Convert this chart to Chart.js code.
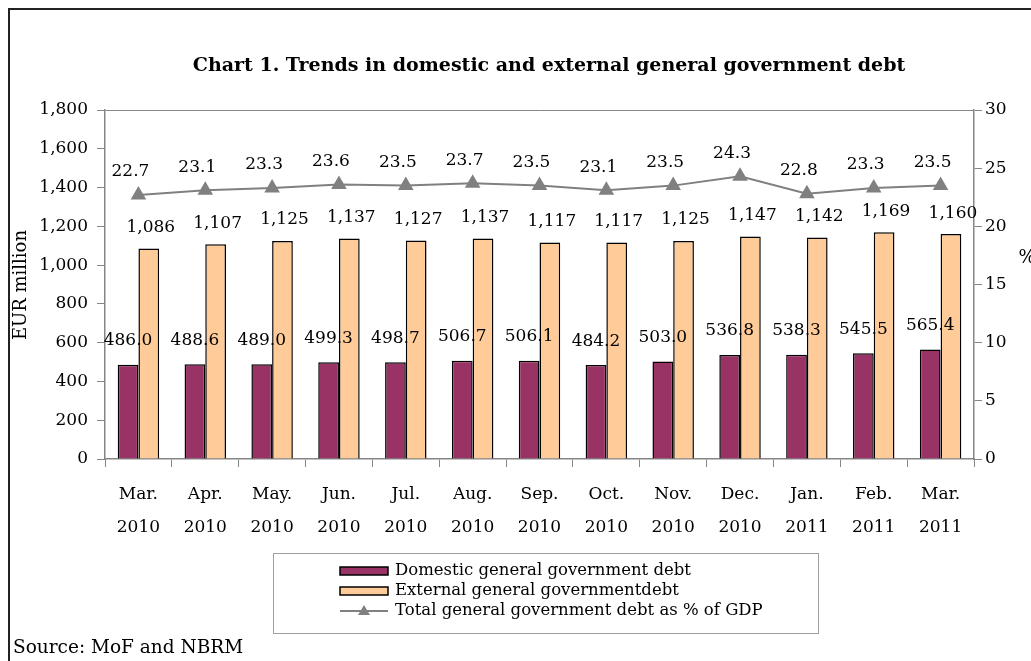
<!DOCTYPE html>
<html>
<head>
<meta charset="utf-8">
<script src="https://cdn.jsdelivr.net/npm/chart.js@4/dist/chart.umd.min.js"></script>
<style>
  html, body { margin: 0; padding: 0; background: #fff; }
  #wrap { position: relative; width: 1031px; height: 661px; }
</style>
</head>
<body>
<div id="wrap"><canvas id="debtChart" width="1031" height="661"></canvas></div>
<script>
// data
const months = [
  ['Mar.', '2010'], ['Apr.', '2010'], ['May.', '2010'], ['Jun.', '2010'], ['Jul.', '2010'],
  ['Aug.', '2010'], ['Sep.', '2010'], ['Oct.', '2010'], ['Nov.', '2010'], ['Dec.', '2010'],
  ['Jan.', '2011'], ['Feb.', '2011'], ['Mar.', '2011']
];
const domesticDebt = [486.0, 488.6, 489.0, 499.3, 498.7, 506.7, 506.1, 484.2, 503.0, 536.8, 538.3, 545.5, 565.4];
const externalDebt = [1086, 1107, 1125, 1137, 1127, 1137, 1117, 1117, 1125, 1147, 1142, 1169, 1160];
const debtToGdp = [22.7, 23.1, 23.3, 23.6, 23.5, 23.7, 23.5, 23.1, 23.5, 24.3, 22.8, 23.3, 23.5];

const seriesNames = [
  'Domestic general government debt',
  'External general governmentdebt',
  'Total general government debt as % of GDP'
];

const serif = 'DejaVu Serif';
const axisGray = '#868686';

// labels, title, frame and legend drawn onto the canvas
const extras = {
  id: 'extras',
  afterDatasetsDraw(chart) {
    const ctx = chart.ctx;
    const dom = chart.getDatasetMeta(0).data;
    const ext = chart.getDatasetMeta(1).data;
    const line = chart.getDatasetMeta(2).data;
    ctx.save();
    ctx.fillStyle = '#000';
    ctx.font = `17px "${serif}"`;
    ctx.textAlign = 'center';
    ctx.textBaseline = 'middle';
    dom.forEach((bar, i) => {
      ctx.fillText(domesticDebt[i].toFixed(1), bar.x, bar.y - 24);
    });
    ext.forEach((bar, i) => {
      ctx.fillText(externalDebt[i].toLocaleString('en-US'), bar.x + 2, bar.y - 21);
    });
    line.forEach((pt, i) => {
      ctx.fillText(debtToGdp[i].toFixed(1), pt.x - 8, pt.y - 23);
    });
    ctx.restore();
  },
  afterDraw(chart) {
    const ctx = chart.ctx;
    ctx.save();
    // outer frame (left and top only)
    ctx.strokeStyle = '#222';
    ctx.lineWidth = 2;
    ctx.beginPath();
    ctx.moveTo(9, 661);
    ctx.lineTo(9, 9);
    ctx.lineTo(1031, 9);
    ctx.stroke();

    // title
    ctx.fillStyle = '#000';
    ctx.font = `bold 19px "${serif}"`;
    ctx.textAlign = 'center';
    ctx.textBaseline = 'middle';
    ctx.fillText('Chart 1. Trends in domestic and external general government debt', 549, 66);

    // axis titles
    ctx.font = `18px "${serif}"`;
    ctx.save();
    ctx.translate(21, 285);
    ctx.rotate(-Math.PI / 2);
    ctx.fillText('EUR million', 0, 0);
    ctx.restore();
    ctx.fillText('%', 1027, 258);

    // source
    ctx.textAlign = 'left';
    ctx.font = `18.5px "${serif}"`;
    ctx.fillText('Source: MoF and NBRM', 13, 648);

    // legend box
    ctx.strokeStyle = '#a0a0a0';
    ctx.lineWidth = 1;
    ctx.strokeRect(273.5, 553.5, 545, 80);
    const rowY = [571, 591, 611];
    ctx.font = `16.5px "${serif}"`;
    ctx.textBaseline = 'middle';
    ctx.lineWidth = 1.5;
    ctx.strokeStyle = '#000';
    ctx.fillStyle = '#993366';
    ctx.fillRect(340, rowY[0] - 4, 48, 8);
    ctx.strokeRect(340, rowY[0] - 4, 48, 8);
    ctx.fillStyle = '#FFCC99';
    ctx.fillRect(340, rowY[1] - 4, 48, 8);
    ctx.strokeRect(340, rowY[1] - 4, 48, 8);
    ctx.strokeStyle = '#808080';
    ctx.lineWidth = 2;
    ctx.beginPath();
    ctx.moveTo(340, rowY[2]);
    ctx.lineTo(388, rowY[2]);
    ctx.stroke();
    ctx.fillStyle = '#808080';
    ctx.beginPath();
    ctx.moveTo(364, rowY[2] - 6);
    ctx.lineTo(370, rowY[2] + 4);
    ctx.lineTo(358, rowY[2] + 4);
    ctx.closePath();
    ctx.fill();
    ctx.fillStyle = '#000';
    seriesNames.forEach((name, i) => ctx.fillText(name, 395, rowY[i]));
    ctx.restore();
  }
};

new Chart(document.getElementById('debtChart'), {
  type: 'bar',
  data: {
    labels: months,
    datasets: [
      {
        label: seriesNames[0],
        data: domesticDebt,
        backgroundColor: '#993366',
        borderColor: '#000',
        borderWidth: 1.5,
        yAxisID: 'y',
        order: 2
      },
      {
        label: seriesNames[1],
        data: externalDebt,
        backgroundColor: '#FFCC99',
        borderColor: '#000',
        borderWidth: 1.5,
        yAxisID: 'y',
        order: 2
      },
      {
        type: 'line',
        label: seriesNames[2],
        data: debtToGdp,
        borderColor: '#808080',
        borderWidth: 2,
        pointStyle: 'triangle',
        pointRadius: 7,
        pointBackgroundColor: '#808080',
        pointBorderColor: '#808080',
        tension: 0,
        yAxisID: 'y1',
        order: 1
      }
    ]
  },
  options: {
    responsive: false,
    animation: false,
    layout: { padding: { top: 110, left: 0, right: 0, bottom: 0 } },
    datasets: {
      bar: { categoryPercentage: 0.62, barPercentage: 1 }
    },
    plugins: {
      legend: { display: false },
      title: { display: false },
      tooltip: { enabled: false }
    },
    scales: {
      x: {
        afterFit(scale) { scale.height = 202; },
        grid: { color: 'transparent', tickColor: axisGray, tickLength: 8, offset: true },
        border: { color: axisGray, width: 1.5 },
        ticks: {
          color: '#000',
          font: { family: serif, size: 17, lineHeight: 1.95 },
          padding: 11,
          maxRotation: 0,
          autoSkip: false
        }
      },
      y: {
        position: 'left',
        min: 0,
        max: 1800,
        afterFit(scale) { scale.width = 105; },
        grid: {
          color: ctx => (ctx.tick && ctx.tick.value === 1800 ? axisGray : 'transparent'),
          tickColor: axisGray,
          tickLength: 8
        },
        border: { color: axisGray, width: 1.5 },
        ticks: {
          stepSize: 200,
          color: '#000',
          padding: 9,
          font: { family: serif, size: 17 },
          callback: v => v.toLocaleString('en-US')
        }
      },
      y1: {
        position: 'right',
        min: 0,
        max: 30,
        afterFit(scale) { scale.width = 57; },
        grid: { drawOnChartArea: false, tickColor: axisGray, tickLength: 8 },
        border: { color: axisGray, width: 1.5 },
        ticks: {
          stepSize: 5,
          color: '#000',
          padding: 3,
          font: { family: serif, size: 17 }
        }
      }
    }
  },
  plugins: [extras]
});
</script>
</body>
</html>
